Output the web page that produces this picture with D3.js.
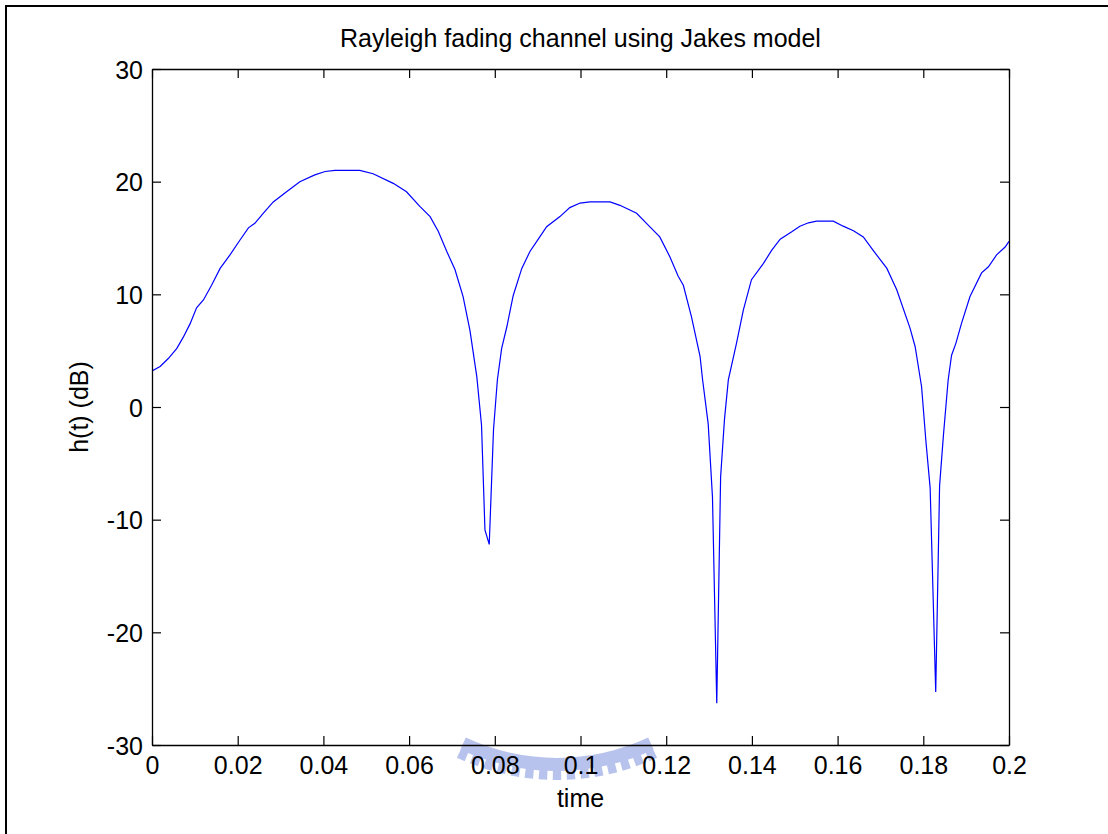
<!DOCTYPE html>
<html>
<head>
<meta charset="utf-8">
<script src="https://cdn.jsdelivr.net/npm/d3@7"></script>
<style>
  html, body { margin: 0; padding: 0; background: #fff; }
  svg { display: block; }
  text { font-family: "Liberation Sans", Arial, sans-serif; fill: #000; }
</style>
</head>
<body>
<script>
// ---- data ----
const titleText = "Rayleigh fading channel using Jakes model";
const xLabel = "time";
const yLabel = "h(t) (dB)";
const xTicks = [0, 0.02, 0.04, 0.06, 0.08, 0.1, 0.12, 0.14, 0.16, 0.18, 0.2];
const xTickLabels = ["0", "0.02", "0.04", "0.06", "0.08", "0.1", "0.12", "0.14", "0.16", "0.18", "0.2"];
const yTicks = [-30, -20, -10, 0, 10, 20, 30];
const yTickLabels = ["-30", "-20", "-10", "0", "10", "20", "30"];
const xDomain = [0, 0.2];
const yDomain = [-30, 30];

const time = [
  0, 0.0019, 0.0038, 0.0058, 0.0073, 0.0089, 0.0104, 0.012, 0.0139, 0.0159,
  0.0182, 0.0205, 0.0225, 0.024, 0.026, 0.0283, 0.0314, 0.0345, 0.038, 0.0404,
  0.0427, 0.0485, 0.0516, 0.0563, 0.0594, 0.0625, 0.0649, 0.0668, 0.0688, 0.0707,
  0.0726, 0.0742, 0.0758, 0.0769, 0.0777, 0.0787, 0.0797, 0.0806, 0.0816, 0.0828,
  0.0843, 0.0863, 0.0882, 0.0905, 0.0921, 0.0952, 0.0975, 0.0999, 0.1022, 0.1069,
  0.1092, 0.1131, 0.1154, 0.1185, 0.1209, 0.1228, 0.124, 0.1259, 0.1279, 0.1285,
  0.1298, 0.1308, 0.1318, 0.1327, 0.1336, 0.1345, 0.1364, 0.138, 0.1399, 0.1427,
  0.1446, 0.1466, 0.1493, 0.1512, 0.1532, 0.1551, 0.159, 0.1613, 0.1637, 0.166,
  0.1683, 0.1715, 0.1738, 0.1769, 0.1781, 0.1796, 0.1806, 0.1816, 0.1829, 0.1838,
  0.1847, 0.1858, 0.1866, 0.1876, 0.1889, 0.1909, 0.1936, 0.1952, 0.1971, 0.1991,
  0.2
];
const hdB = [
  3.2, 3.6, 4.3, 5.2, 6.2, 7.4, 8.8, 9.5, 10.8, 12.3,
  13.5, 14.8, 15.9, 16.3, 17.2, 18.2, 19.1, 20.0, 20.6, 20.9,
  21.0, 21.0, 20.7, 19.85, 19.1, 17.8, 16.9, 15.6, 13.8, 12.2,
  9.8, 6.8, 2.7, -1.6, -10.9, -12.2, -2.0, 2.4, 5.2, 7.1,
  9.9, 12.3, 13.8, 15.1, 16.0, 16.9, 17.7, 18.1, 18.2, 18.2,
  17.9, 17.2, 16.3, 15.1, 13.3, 11.6, 10.8, 8.0, 4.5, 2.4,
  -1.5, -8.0, -26.3, -6.2, -1.1, 2.4, 5.65, 8.6, 11.3, 12.75,
  13.9, 14.9, 15.55, 16.05, 16.35, 16.5, 16.5, 16.05, 15.65, 15.1,
  13.9, 12.3, 10.4, 7.0, 5.35, 1.8, -3.0, -7.2, -25.3, -7.0,
  -2.5, 2.4, 4.6, 5.65, 7.4, 9.8, 11.9, 12.45, 13.5, 14.2,
  14.7
];

// ---- layout ----
const W = 1108, H = 834;
const m = { left: 152, right: 1009, top: 69, bottom: 745 };
const fontSize = 25;

const svg = d3.select("body").append("svg").attr("width", W).attr("height", H);
svg.append("rect").attr("width", W).attr("height", H).attr("fill", "#fff");

// outer figure frame (only top/left visible in the reference)
svg.append("rect").attr("x", 6).attr("y", 6).attr("width", W + 20).attr("height", H + 20)
  .attr("fill", "none").attr("stroke", "#000").attr("stroke-width", 2);

const x = d3.scaleLinear().domain(xDomain).range([m.left, m.right]);
const y = d3.scaleLinear().domain(yDomain).range([m.bottom, m.top]);

// faint watermark (decorative)
const wm = svg.append("g").attr("opacity", 0.55);
const cx = 557, cy = 544;
const arcBand = d3.arc().innerRadius(214).outerRadius(227)
  .startAngle(Math.PI - 0.44).endAngle(Math.PI + 0.44);
wm.append("path").attr("d", arcBand()).attr("transform", `translate(${cx},${cy})`).attr("fill", "#7f93e0");
const teeth = d3.range(-0.42, 0.43, 0.06);
teeth.forEach(a => {
  const arcT = d3.arc().innerRadius(226).outerRadius(236)
    .startAngle(Math.PI + a - 0.018).endAngle(Math.PI + a + 0.018);
  wm.append("path").attr("d", arcT()).attr("transform", `translate(${cx},${cy})`).attr("fill", "#7f93e0");
});

// clip for the line
svg.append("clipPath").attr("id", "clip").append("rect")
  .attr("x", m.left).attr("y", m.top).attr("width", m.right - m.left).attr("height", m.bottom - m.top);

const data = time.map((t, i) => [t, hdB[i]]);
svg.append("path").datum(data)
  .attr("clip-path", "url(#clip)")
  .attr("fill", "none").attr("stroke", "#0000ff").attr("stroke-width", 1.2)
  .attr("stroke-linejoin", "miter")
  .attr("d", d3.line().x(d => x(d[0])).y(d => y(d[1])));

// axes (box with inward ticks on all four sides)
const tickLen = 9;
function styleAxis(g) {
  g.selectAll("path.domain").attr("stroke", "#000").attr("stroke-width", 1.3);
  g.selectAll(".tick line").attr("stroke", "#000").attr("stroke-width", 1.2);
}
const fmtX = (d, i) => xTickLabels[i];
const fmtY = (d, i) => yTickLabels[i];

const gx = svg.append("g").attr("transform", `translate(0,${m.bottom})`)
  .call(d3.axisBottom(x).tickValues(xTicks).tickFormat(fmtX).tickSizeInner(-tickLen).tickSizeOuter(0).tickPadding(20));
styleAxis(gx);
gx.selectAll(".tick text").attr("font-size", fontSize).attr("font-family", "Liberation Sans, Arial, sans-serif")
  .attr("y", 29).attr("dy", 0);

const gxt = svg.append("g").attr("transform", `translate(0,${m.top})`)
  .call(d3.axisTop(x).tickValues(xTicks).tickFormat("").tickSizeInner(-tickLen).tickSizeOuter(0));
styleAxis(gxt);

const gy = svg.append("g").attr("transform", `translate(${m.left},0)`)
  .call(d3.axisLeft(y).tickValues(yTicks).tickFormat(fmtY).tickSizeInner(-tickLen).tickSizeOuter(0));
styleAxis(gy);
gy.selectAll(".tick text").attr("font-size", fontSize).attr("font-family", "Liberation Sans, Arial, sans-serif")
  .attr("x", -9).attr("dy", "0.36em");

const gyr = svg.append("g").attr("transform", `translate(${m.right},0)`)
  .call(d3.axisRight(y).tickValues(yTicks).tickFormat("").tickSizeInner(-tickLen).tickSizeOuter(0));
styleAxis(gyr);

// title and labels
svg.append("text").attr("x", (m.left + m.right) / 2).attr("y", 47)
  .attr("text-anchor", "middle").attr("font-size", fontSize).text(titleText);
svg.append("text").attr("x", (m.left + m.right) / 2).attr("y", 807)
  .attr("text-anchor", "middle").attr("font-size", fontSize).text(xLabel);
svg.append("text").attr("transform", `translate(88,${(m.top + m.bottom) / 2}) rotate(-90)`)
  .attr("text-anchor", "middle").attr("font-size", fontSize).text(yLabel);
</script>
</body>
</html>
